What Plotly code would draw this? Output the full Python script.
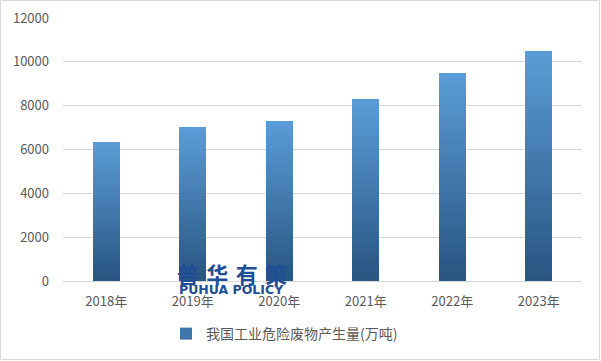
import plotly.graph_objects as go

categories = ["2018年", "2019年", "2020年", "2021年", "2022年", "2023年"]
values = [6360, 7040, 7280, 8290, 9510, 10510]
series_name = "我国工业危险废物产生量(万吨)"
y_ticks = [0, 2000, 4000, 6000, 8000, 10000, 12000]
y_tick_text = [str(v) for v in y_ticks]

W, H = 601, 361
ML, MR, MT, MB = 63, 19, 18, 80

top_rgb = (91, 157, 216)
bot_rgb = (40, 84, 128)
N = 40


def lerp(a, b, t):
    return tuple(round(a[i] + (b[i] - a[i]) * t) for i in range(3))


fig = go.Figure()
for k in range(N):
    t = (k + 0.5) / N  # 0 bottom -> 1 top
    c = lerp(bot_rgb, top_rgb, t)
    fig.add_trace(go.Bar(
        x=categories,
        y=[v / N for v in values],
        marker=dict(color="rgb(%d,%d,%d)" % c, line=dict(width=0)),
        name=series_name,
        showlegend=False,
        hoverinfo="skip",
    ))

# legend entry
fig.add_trace(go.Bar(
    x=[None], y=[None], name=series_name,
    marker=dict(color="rgb(62,118,172)", line=dict(width=0)),
    showlegend=True,
))

plot_w = W - ML - MR
plot_h = H - MT - MB


def px_x(x):
    return (x - ML) / plot_w


def px_y(y):
    return (MT + plot_h - y) / plot_h


fig.update_layout(
    width=W, height=H,
    margin=dict(l=ML, r=MR, t=MT, b=MB, autoexpand=False),
    barmode="stack",
    bargap=0.69,
    plot_bgcolor="white",
    paper_bgcolor="white",
    font=dict(family="Noto Sans CJK SC, DejaVu Sans, sans-serif", size=13, color="#595959"),
    legend=dict(orientation="h", x=px_x(166), xanchor="left", y=px_y(334), yanchor="middle",
                font=dict(size=14, color="#595959"), itemwidth=30, traceorder="normal"),
    xaxis=dict(showgrid=False, showline=True, linecolor="#D9D9D9", linewidth=1,
               ticks="", tickfont=dict(size=13, color="#595959"), ticklabelstandoff=8),
    yaxis=dict(range=[0, 12000], tickvals=y_ticks, ticktext=y_tick_text, showgrid=True,
               gridcolor="#D9D9D9", gridwidth=1, zeroline=False, showline=False, ticks="",
               tickfont=dict(size=13, color="#595959"), ticklabelstandoff=13),
    shapes=[dict(type="rect", xref="paper", yref="paper",
                 x0=px_x(0.5), x1=px_x(W - 1.5),
                 y0=px_y(H - 1.5), y1=px_y(0.5),
                 line=dict(color="#D9D9D9", width=1), layer="below")],
    annotations=[
        dict(text="<b>普\u2004华\u2004有\u2004策</b>", xref="paper", yref="paper",
             x=px_x(231.5), y=px_y(273),
             xanchor="center", yanchor="middle", showarrow=False,
             font=dict(family="Noto Sans CJK SC", size=22, color="#1F4E96")),
        dict(text="<b>PUHUA POLICY</b>", xref="paper", yref="paper",
             x=px_x(231.5), y=px_y(289.5),
             xanchor="center", yanchor="middle", showarrow=False,
             font=dict(family="DejaVu Sans", size=12.5, color="#1F4E96")),
    ],
)

fig.write_html(
    "out.html",
    config={"displayModeBar": False},
    post_script="document.body.style.margin='0';document.body.style.padding='0';",
)
